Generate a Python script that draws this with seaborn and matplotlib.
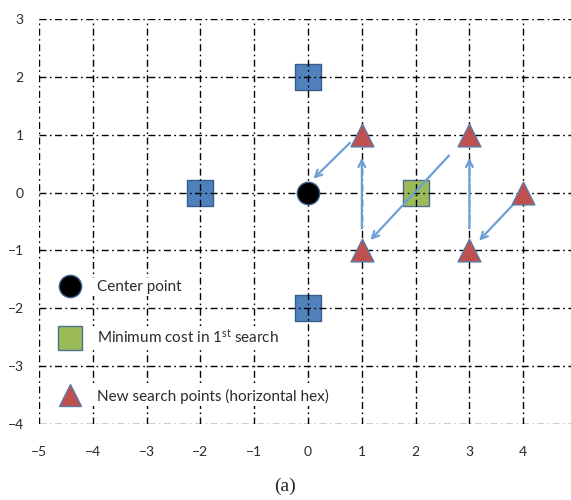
import matplotlib
matplotlib.use("Agg")
import matplotlib.pyplot as plt
import seaborn as sns
from matplotlib.lines import Line2D

# ---- data ----
blue_x = [0, -2, 0]
blue_y = [2, 0, -2]
center_x = [0]
center_y = [0]
min_x = [2]
min_y = [0]
tri_x = [1, 3, 1, 3, 4]
tri_y = [1, 1, -1, -1, 0]
arrow_start_x = [0.78, 1.0, 2.62, 3.0, 3.80]
arrow_start_y = [0.86, -0.62, 0.64, -0.62, -0.22]
arrow_end_x = [0.10, 1.0, 1.16, 3.0, 3.18]
arrow_end_y = [0.24, 0.60, -0.82, 0.60, -0.83]
x_ticks = [-5, -4, -3, -2, -1, 0, 1, 2, 3, 4]
y_ticks = [-4, -3, -2, -1, 0, 1, 2, 3]
legend_labels = ["Center point", "Minimum cost in 1$^{st}$ search",
                 "New search points (horizontal hex)"]
caption = "(a)"

sns.set_style("white")
plt.rcParams['font.family'] = ['Lato', 'DejaVu Sans']
plt.rcParams['mathtext.default'] = 'regular'

fig = plt.figure(figsize=(5.71, 5.0), dpi=100)
ax = fig.add_axes([39/571, 1 - 424/500, 1 - 39/571 + 0.004, (424 - 19)/500])
ax.set_xlim(-5, 4.93)
ax.set_ylim(-4, 3)

ax.set_xticks(x_ticks)
ax.set_yticks(y_ticks)
ls = (0, (5, 2.5, 1.2, 2.5))
ax.grid(True, color='black', linestyle=ls, linewidth=1.0, zorder=1)
ax.set_axisbelow(False)
for s in ax.spines.values():
    s.set_visible(False)
ax.tick_params(axis='both', length=0, labelsize=10, labelcolor='#2a2a2a')
ax.tick_params(axis='x', pad=16)
ax.tick_params(axis='y', pad=11)

# squares drawn under the grid (grid visible through them as in the reference)
sns.scatterplot(x=blue_x, y=blue_y, marker='s', s=330, color='#4F81BD',
                edgecolor='#385D8A', linewidth=1.0, ax=ax, zorder=0.3)
sns.scatterplot(x=min_x, y=min_y, marker='s', s=330, color='#9BBB59',
                edgecolor='#4F6F8F', linewidth=1.0, ax=ax, zorder=0.3)

# arrows
for sx, sy, ex, ey in zip(arrow_start_x, arrow_start_y, arrow_end_x, arrow_end_y):
    ax.annotate("", xy=(ex, ey), xytext=(sx, sy),
                arrowprops=dict(arrowstyle='->', color='#6d9fd6', lw=1.6,
                                mutation_scale=12, shrinkA=0, shrinkB=0),
                zorder=4)

sns.scatterplot(x=center_x, y=center_y, marker='o', s=260, color='black',
                edgecolor='#385D8A', linewidth=1.0, ax=ax, zorder=5)
sns.scatterplot(x=tri_x, y=tri_y, marker='^', s=270, color='#C0504D',
                edgecolor='#5B7BA8', linewidth=1.0, ax=ax, zorder=5)

ax.set_xlabel("")
ax.set_ylabel("")

handles = [
    Line2D([], [], marker='o', linestyle='none', markersize=16,
           markerfacecolor='black', markeredgecolor='#385D8A'),
    Line2D([], [], marker='s', linestyle='none', markersize=17,
           markerfacecolor='#9BBB59', markeredgecolor='#4F6F8F'),
    Line2D([], [], marker='^', linestyle='none', markersize=16,
           markerfacecolor='#C0504D', markeredgecolor='#5B7BA8'),
]
# one white-backed legend row per entry (horizontal grid lines stay visible between rows)
row_anchor_y = [0.338, 0.215, 0.069]
for i, (h, lab, ry) in enumerate(zip(handles, legend_labels, row_anchor_y)):
    leg = ax.legend([h], [lab], loc='center left',
                    bbox_to_anchor=(0.033, ry), frameon=True,
                    facecolor='white', edgecolor='none', framealpha=1.0,
                    fancybox=False, fontsize=11, handletextpad=1.0,
                    handlelength=1.5, borderaxespad=0, borderpad=0.15)
    leg.set_zorder(6)
    for t in leg.get_texts():
        t.set_color('#2a2a2a')
    if i < len(handles) - 1:
        ax.add_artist(leg)

fig.text(285/571, 1 - 486/500, caption, ha='center', va='center',
         fontsize=14, family='Liberation Serif')

fig.savefig("out.png", dpi=100)
